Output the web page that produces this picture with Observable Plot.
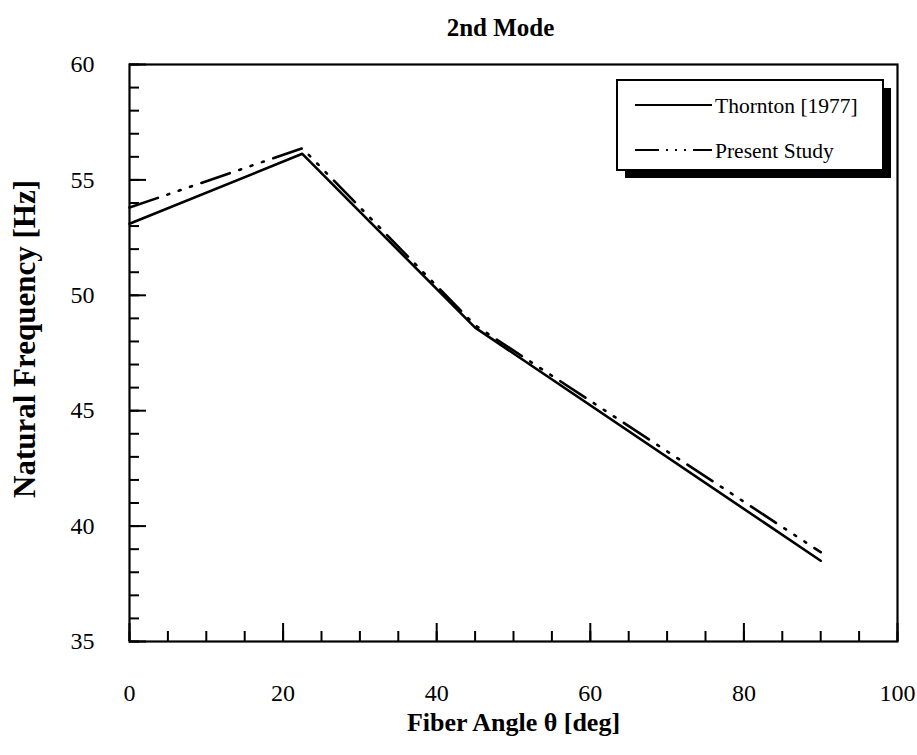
<!DOCTYPE html>
<html>
<head>
<meta charset="utf-8">
<script src="https://cdn.jsdelivr.net/npm/d3@7"></script>
<script src="https://cdn.jsdelivr.net/npm/@observablehq/plot@0.6"></script>
<style>
  html, body { margin: 0; padding: 0; background: white; }
  #wrap { position: relative; width: 917px; height: 755px; }
  #legend { position: absolute; left: 615px; top: 78px; }
</style>
</head>
<body>
<div id="wrap"><div id="chart"></div><div id="legend"></div></div>
<script>
// ---- data ----
const fiberAngle = [0, 22.5, 45, 90];
const thornton = [53.1, 56.13, 48.6, 38.5];
const presentStudy = [53.8, 56.37, 48.7, 38.87];
const seriesNames = ["Thornton [1977]", "Present Study"];
const xTickLabels = [0, 20, 40, 60, 80, 100];
const yTickLabels = [35, 40, 45, 50, 55, 60];
const xMinorTicks = d3.range(0, 101, 5);
const yMinorTicks = d3.range(35, 61, 1);
const title = "2nd Mode";
const xLabel = "Fiber Angle θ [deg]";
const yLabel = "Natural Frequency [Hz]";

const rows = [];
fiberAngle.forEach((a, i) => {
  rows.push({series: seriesNames[0], angle: a, freq: thornton[i]});
});
fiberAngle.forEach((a, i) => {
  rows.push({series: seriesNames[1], angle: a, freq: presentStudy[i]});
});

const W = 917, H = 755;
const mL = 129, mR = 20, mT = 64, mB = 114;
const plotW = W - mL - mR, plotH = H - mT - mB;
const dash = "30,10,2,10,2,10,2,10";
const font = "'Liberation Serif', 'Times New Roman', serif";

const chart = Plot.plot({
  width: W, height: H,
  marginLeft: mL, marginRight: mR, marginTop: mT, marginBottom: mB,
  x: {domain: [0, 100]},
  y: {domain: [35, 60]},
  style: {fontFamily: font, fontSize: "24px", color: "black", background: "white"},
  marks: [
    // minor ticks (inward)
    Plot.tickX(xMinorTicks, {x: d => d, insetTop: plotH - 10, stroke: "black", strokeWidth: 2}),
    Plot.tickX(xTickLabels, {x: d => d, insetTop: plotH - 18, stroke: "black", strokeWidth: 2}),
    Plot.tickY(yMinorTicks, {y: d => d, insetRight: plotW - 10, stroke: "black", strokeWidth: 2}),
    Plot.tickY(yTickLabels, {y: d => d, insetRight: plotW - 17, stroke: "black", strokeWidth: 2}),
    Plot.frame({stroke: "black", strokeWidth: 2.2}),
    Plot.axisX(xTickLabels, {tickSize: 0, tickPadding: 42, label: null, fontSize: 24}),
    Plot.axisY(yTickLabels, {tickSize: 0, tickPadding: 35, label: null, fontSize: 24}),
    Plot.line(rows.filter(d => d.series === seriesNames[0]), {
      x: "angle", y: "freq", stroke: "black", strokeWidth: 2.6
    }),
    Plot.line(rows.filter(d => d.series === seriesNames[1]), {
      x: "angle", y: "freq", stroke: "black", strokeWidth: 2.6, strokeDasharray: dash
    }),
    Plot.text([title], {frameAnchor: "top", dy: -46, dx: -13, fontWeight: "bold", fontSize: 25}),
    Plot.text([xLabel], {frameAnchor: "bottom", dy: 89, fontWeight: "bold", fontSize: 26}),
    Plot.text([yLabel], {frameAnchor: "left", textAnchor: "middle", dx: -104, dy: -14, rotate: -90, fontWeight: "bold", fontSize: 31})
  ]
});
document.getElementById("chart").appendChild(chart);

// ---- legend ----
const lg = d3.select("#legend").append("svg")
  .attr("width", 290).attr("height", 110)
  .style("font-family", font);
// shadow
lg.append("rect").attr("x", 10).attr("y", 10).attr("width", 266).attr("height", 90).attr("fill", "black");
lg.append("rect").attr("x", 2).attr("y", 2).attr("width", 266).attr("height", 90)
  .attr("fill", "white").attr("stroke", "black").attr("stroke-width", 2);
const entries = [{name: seriesNames[0], dash: null, y: 27}, {name: seriesNames[1], dash: dash, y: 72}];
entries.forEach(e => {
  const l = lg.append("line").attr("x1", 20).attr("x2", 97).attr("y1", e.y).attr("y2", e.y)
    .attr("stroke", "black").attr("stroke-width", 2.2);
  if (e.dash) l.attr("stroke-dasharray", "24,7,2,7,2,7,2,7");
  lg.append("text").attr("x", 100).attr("y", e.y).attr("dy", "0.35em")
    .attr("font-size", 21.5).text(e.name);
});
</script>
</body>
</html>
